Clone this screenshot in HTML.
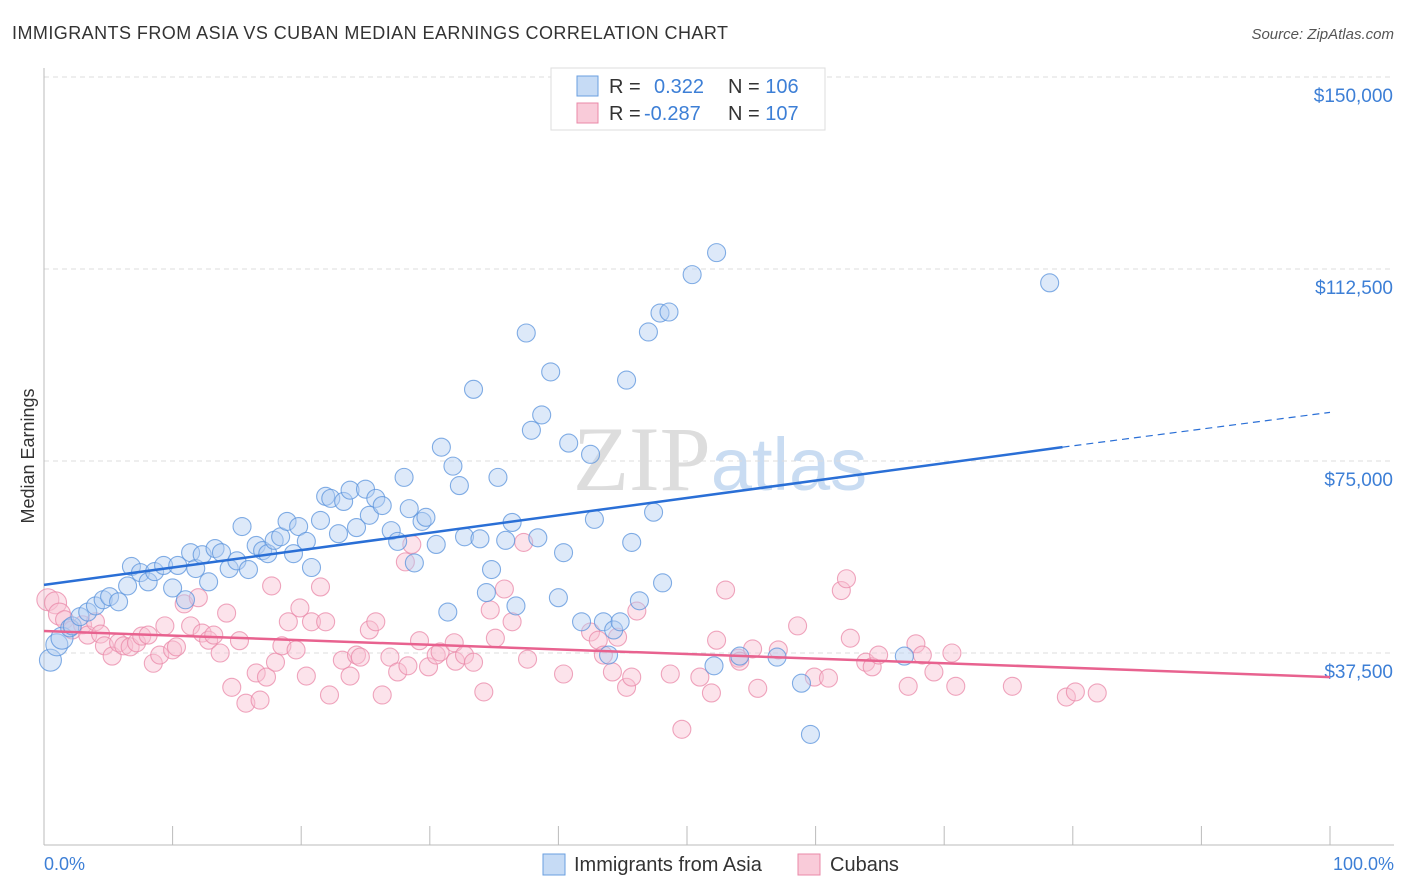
<!DOCTYPE html>
<html><head><meta charset="utf-8">
<style>
body{margin:0;background:#fff;font-family:"Liberation Sans",sans-serif;}
svg{display:block}
</style></head>
<body>
<svg id="chart" width="1406" height="892" xmlns="http://www.w3.org/2000/svg">
<text x="12" y="39" font-size="18" fill="#333" textLength="716">IMMIGRANTS FROM ASIA VS CUBAN MEDIAN EARNINGS CORRELATION CHART</text>
<text x="1394" y="39" font-size="15" fill="#555" font-style="italic" text-anchor="end">Source: ZipAtlas.com</text>
<text x="720" y="490" font-size="92" fill="#ddd" text-anchor="middle" font-family="Liberation Serif,serif">ZIP<tspan fill="#c9dcf2" font-family="Liberation Sans,sans-serif" font-size="74">atlas</tspan></text>
<g id="grid"></g>
<g id="axes"></g>
<g id="pink"></g>
<g id="blue"></g>
<g id="trends"></g>
<text x="34" y="456" font-size="18" fill="#333" text-anchor="middle" transform="rotate(-90 34 456)">Median Earnings</text>
<text x="44" y="870" font-size="18" fill="#3d7fd6">0.0%</text>
<text x="1394" y="870" font-size="18" fill="#3d7fd6" text-anchor="end">100.0%</text>
<g>
<rect x="551" y="68" width="274" height="62" fill="#fff" stroke="#ddd"/>
<rect x="577" y="76" width="21" height="20" fill="#c6dbf5" stroke="#6a9fe0"/>
<text x="609" y="93" font-size="20" fill="#333">R = <tspan fill="#3d7fd6" x="654">0.322</tspan><tspan x="728" fill="#333">N = </tspan><tspan fill="#3d7fd6">106</tspan></text>
<rect x="577" y="103" width="21" height="20" fill="#f9cbd9" stroke="#ea88a8"/>
<text x="609" y="120" font-size="20" fill="#333">R = <tspan fill="#3d7fd6" x="644">-0.287</tspan><tspan x="728" fill="#333">N = </tspan><tspan fill="#3d7fd6">107</tspan></text>
</g>
<g>
<rect x="543" y="854" width="22" height="21" fill="#c6dbf5" stroke="#6a9fe0"/>
<text x="574" y="871" font-size="20" fill="#333">Immigrants from Asia</text>
<rect x="798" y="854" width="22" height="21" fill="#f9cbd9" stroke="#ea88a8"/>
<text x="830" y="871" font-size="20" fill="#333">Cubans</text>
</g>
</svg>
<script>
const yTicks=[37500,75000,112500,150000];
const yTickLabels=["$37,500","$75,000","$112,500","$150,000"];
const blueX=[0.5,1.0,1.4,2.0,2.2,2.8,3.4,4.0,4.6,5.1,5.8,6.5,6.8,7.5,8.1,8.6,9.3,10.0,10.4,11.0,11.4,11.8,12.3,12.8,13.3,13.8,14.4,15.0,15.4,15.9,16.5,17.0,17.4,17.9,18.4,18.9,19.4,19.8,20.4,20.8,21.5,21.9,22.3,22.9,23.3,23.8,24.3,25.0,25.3,25.8,26.3,27.0,27.5,28.0,28.4,28.8,29.4,29.7,30.5,30.9,31.4,31.8,32.3,32.7,33.4,33.9,34.4,34.8,35.3,35.9,36.4,36.7,37.5,37.9,38.4,38.7,39.4,40.0,40.4,40.8,42.5,42.8,41.8,43.5,43.9,44.3,44.8,45.3,45.7,46.3,47.0,47.4,47.9,48.1,48.6,50.4,52.1,52.3,54.1,57.0,58.9,59.6,66.9,78.2];
const blueY=[36.1,39.1,40.4,42.4,42.8,44.6,45.5,46.7,47.9,48.5,47.5,50.6,54.4,53.2,51.4,53.4,54.6,50.2,54.6,47.9,57.1,54.0,56.7,51.4,57.9,57.1,54.0,55.5,62.2,53.8,58.5,57.5,56.9,59.5,60.2,63.2,56.9,62.2,59.3,54.2,63.4,68.1,67.7,60.8,67.1,69.3,62.0,69.5,64.4,67.7,66.3,61.4,59.3,71.8,65.7,55.1,63.2,64.0,58.7,77.7,45.5,74.0,70.2,60.2,89.0,59.8,49.3,53.8,71.8,59.5,63.0,46.7,100.0,81.0,60.0,84.0,92.4,48.3,57.1,78.5,76.3,63.6,43.6,43.6,37.1,42.0,43.6,90.8,59.1,47.7,100.2,65.0,103.9,51.2,104.1,111.4,35.0,115.7,36.9,36.7,31.6,21.6,36.9,109.8];
const pinkX=[0.3,0.9,1.2,1.6,2.2,3.0,3.4,4.0,4.4,4.7,5.3,5.8,6.2,6.7,7.2,7.6,8.1,8.5,9.0,9.4,10.0,10.3,10.9,11.4,12.0,12.3,12.8,13.2,13.7,14.2,14.6,15.2,15.7,16.5,16.8,17.3,17.7,18.0,18.5,19.0,19.6,19.9,20.4,20.8,21.5,21.9,22.2,23.2,23.8,24.3,24.6,25.3,25.8,26.3,26.9,27.5,28.1,28.6,28.3,29.2,29.9,30.5,30.8,31.9,32.0,32.7,33.4,34.2,34.7,35.1,35.8,36.4,37.3,37.6,40.4,42.5,43.1,43.5,44.2,44.6,45.3,45.7,46.1,48.7,49.6,51.0,51.9,52.3,53.0,54.0,54.1,55.1,55.5,57.1,58.6,59.9,61.0,62.0,62.4,62.7,63.9,64.4,64.9,67.2,67.8,68.3,69.2,70.6,70.9,75.3,79.5,80.2,81.9];
const pinkY=[47.9,47.3,45.1,44.0,42.0,43.0,41.0,43.6,41.2,38.9,36.9,39.5,38.9,38.7,39.5,40.8,41.0,35.5,37.1,42.8,38.1,38.7,47.1,42.8,48.3,41.4,40.0,41.0,37.5,45.3,30.8,39.9,27.7,33.6,28.3,32.8,50.6,35.7,38.9,43.6,38.1,46.3,33.0,43.6,50.4,43.6,29.3,36.1,33.0,37.1,36.7,42.0,43.6,29.3,36.7,33.8,55.3,58.7,35.0,39.9,34.8,37.1,37.7,39.5,35.9,37.1,35.7,29.9,45.9,40.4,50.0,43.6,59.1,36.3,33.4,41.6,40.0,37.1,33.8,40.6,30.8,32.8,45.7,33.4,22.6,32.8,29.7,40.0,49.8,36.5,35.9,38.3,30.6,38.1,42.8,32.8,32.6,49.7,52.0,40.4,35.7,34.8,37.1,31.0,39.3,37.1,33.8,37.5,31.0,31.0,28.9,29.9,29.7];
const blueTrendX=[0,79.2,100];
const blueTrendY=[50.8,77.7,84.5];
const pinkTrendX=[0,100];
const pinkTrendY=[41.8,32.8];

const NS="http://www.w3.org/2000/svg";
const X0=44,X1=1330,YB=845,Y37=653;
function sx(p){return X0+(X1-X0)*p/100;}
function sy(v){return YB-(YB-Y37)*v/37.5;}
function mk(tag,attrs,parent){const e=document.createElementNS(NS,tag);for(const k in attrs)e.setAttribute(k,attrs[k]);parent.appendChild(e);return e;}

const grid=document.getElementById('grid');
yTicks.forEach((t,i)=>{
  const y=sy(t/1000);
  const l=mk('line',{x1:44,x2:1394,y1:y,y2:y,stroke:'#ddd','stroke-dasharray':'5,4'},grid);
  
  
  const tx=mk('text',{x:1393,y:y+25,'font-size':19,fill:'#3d7fd6','text-anchor':'end'},grid);
  tx.textContent=yTickLabels[i];
  
  
});
const axes=document.getElementById('axes');
const ya=mk('line',{x1:44,x2:44,y1:68,y2:845,stroke:'#bbb'},axes);


const xa=mk('line',{x1:44,x2:1394,y1:845,y2:845,stroke:'#bbb'},axes);


for(let i=0;i<=10;i++){
  const x=sx(i*10);
  const t=mk('line',{x1:x,x2:x,y1:826,y2:845,stroke:'#bbb'},axes);
  
  
}
function dots(xs,ys,g,fill,stroke,name){
  xs.forEach((p,i)=>{
    const c=mk('circle',{cx:sx(p),cy:sy(ys[i]),r:(p<1.5?11:9),fill:fill,'fill-opacity':0.45,stroke:stroke,'stroke-opacity':0.75,'stroke-width':1.1},g);
    
    
  });
}
dots(pinkX,pinkY,document.getElementById('pink'),'#f9c2d3','#ea88a8','cuban-point');
dots(blueX,blueY,document.getElementById('blue'),'#b3cff2','#5a93dc','asia-point');
const tr=document.getElementById('trends');
const b1=mk('line',{x1:sx(blueTrendX[0]),y1:sy(blueTrendY[0]),x2:sx(blueTrendX[1]),y2:sy(blueTrendY[1]),stroke:'#2a6fd6','stroke-width':2.5},tr);


const b2=mk('line',{x1:sx(blueTrendX[1]),y1:sy(blueTrendY[1]),x2:sx(blueTrendX[2]),y2:sy(blueTrendY[2]),stroke:'#2a6fd6','stroke-width':1.2,'stroke-dasharray':'7,5'},tr);


const p1=mk('line',{x1:sx(pinkTrendX[0]),y1:sy(pinkTrendY[0]),x2:sx(pinkTrendX[1]),y2:sy(pinkTrendY[1]),stroke:'#e8628f','stroke-width':2.5},tr);


</script>
</body></html>
